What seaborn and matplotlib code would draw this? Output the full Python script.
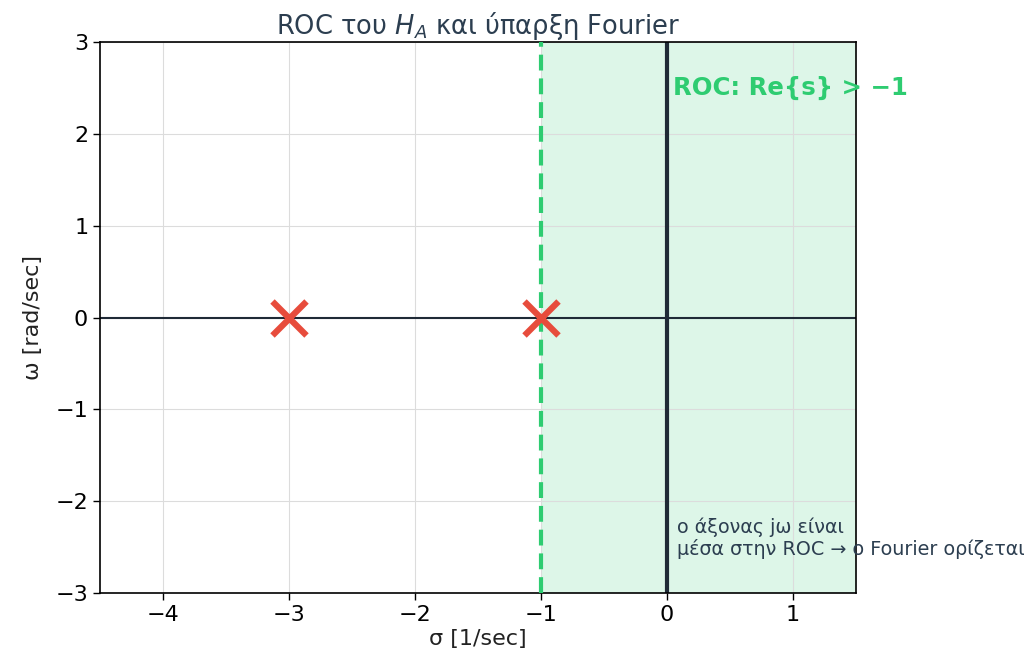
import matplotlib
matplotlib.use("Agg")
import matplotlib.pyplot as plt
import seaborn as sns
import pandas as pd

# Poles of H_A(s)
pole_re = [-3.0, -1.0]
pole_im = [0.0, 0.0]
roc_boundary = -1.0
x_limits = [-4.5, 1.5]
y_limits = [-3, 3]
x_ticks = [-4, -3, -2, -1, 0, 1]
y_ticks = [-3, -2, -1, 0, 1, 2, 3]

sns.set_style("whitegrid", {"grid.color": "#dcdcdc", "axes.edgecolor": "black"})
plt.rcParams['font.family'] = ['DejaVu Sans']

fig = plt.figure(figsize=(10.33, 6.65), dpi=100)
ax = fig.add_axes([0.0968, 0.1083, 0.7319, 0.8285])

dark = "#1f2a36"
green = "#2ecc71"
red = "#e74c3c"

# Region of convergence: Re{s} > -1
ax.axvspan(roc_boundary, x_limits[1], color=green, alpha=0.16, lw=0, zorder=0)
ax.axvline(roc_boundary, color=green, lw=3, ls=(0, (3.8, 1.9)), zorder=3)

# jω axis and real axis
ax.axvline(0, color=dark, lw=3, zorder=2)
ax.axhline(0, color=dark, lw=1.5, zorder=2)

poles = pd.DataFrame({"re": pole_re, "im": pole_im})
sns.scatterplot(data=poles, x="re", y="im", marker="x", s=600, color=red,
                linewidth=4.5, ax=ax, zorder=5, clip_on=False)

ax.set_xlim(x_limits)
ax.set_ylim(y_limits)
ax.set_xticks(x_ticks)
ax.set_yticks(y_ticks)
ax.tick_params(axis="both", labelsize=16, length=5, width=1, color="black",
               labelcolor="black", bottom=True, left=True)
for s in ax.spines.values():
    s.set_color("black")
    s.set_linewidth(1.2)

ax.set_xlabel("σ [1/sec]", fontsize=16, color="#222222", labelpad=3)
ax.set_ylabel("ω [rad/sec]", fontsize=16, color="#222222", labelpad=9)
ax.set_title(r"ROC του $H_A$ και ύπαρξη Fourier", fontsize=18.5, color="#2c3e50", pad=6)

ax.text(0.05, 2.5, "ROC: Re{s} > −1", color=green, fontsize=17.6, fontweight="bold",
        va="center", ha="left", clip_on=False, zorder=6)
ax.text(0.08, -2.4, "ο άξονας jω είναι\nμέσα στην ROC → ο Fourier ορίζεται",
        color="#2c3e50", fontsize=13.8, va="center", ha="left", clip_on=False, zorder=6,
        linespacing=1.12)

fig.savefig("out.png", dpi=100)
